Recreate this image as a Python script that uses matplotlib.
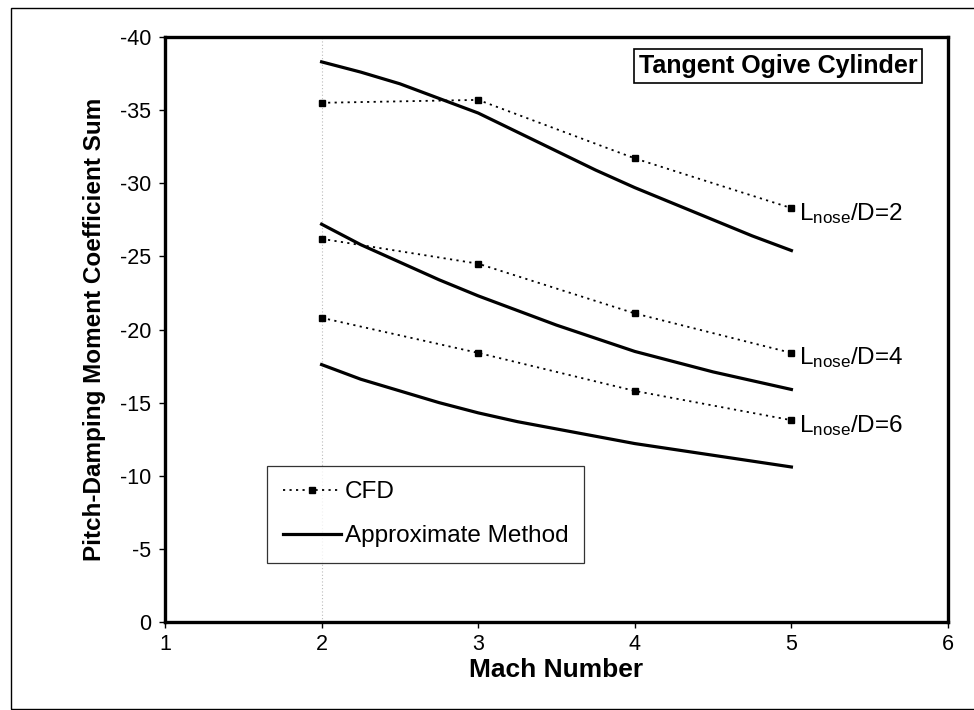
import matplotlib
matplotlib.use("Agg")
import matplotlib.pyplot as plt
from matplotlib.lines import Line2D
from matplotlib.patches import Rectangle

plt.rcParams['font.family'] = ['Liberation Sans', 'DejaVu Sans']
plt.rcParams['mathtext.default'] = 'regular'

# CFD data (Mach, coefficient sum)
cfd_mach = [2, 3, 4, 5]
cfd_ld2 = [-35.5, -35.7, -31.7, -28.3]
cfd_ld4 = [-26.2, -24.5, -21.1, -18.4]
cfd_ld6 = [-20.8, -18.4, -15.8, -13.8]

# Approximate method curves (read at 0.25 Mach spacing)
apx_mach = [2.0, 2.25, 2.5, 2.75, 3.0, 3.25, 3.5, 3.75, 4.0, 4.25, 4.5, 4.75, 5.0]
apx_ld2 = [-38.3, -37.6, -36.8, -35.8, -34.8, -33.5, -32.2, -30.9, -29.7, -28.6, -27.5, -26.4, -25.4]
apx_ld4 = [-27.2, -25.8, -24.6, -23.4, -22.3, -21.3, -20.3, -19.4, -18.5, -17.8, -17.1, -16.5, -15.9]
apx_ld6 = [-17.6, -16.6, -15.8, -15.0, -14.3, -13.7, -13.2, -12.7, -12.2, -11.8, -11.4, -11.0, -10.6]

curve_labels = ['2', '4', '6']
x_ticks = [1, 2, 3, 4, 5, 6]
y_ticks = [0, -5, -10, -15, -20, -25, -30, -35, -40]

W, H = 974, 710
fig = plt.figure(figsize=(W / 100, H / 100), dpi=100)
ax = fig.add_axes([165 / W, 1 - 622 / H, (948 - 165) / W, (622 - 37) / H])

# outer frame
fig.patches.append(Rectangle((11 / W, 1 / H), 1.2, 1 - 9 / H, transform=fig.transFigure,
                             fill=False, edgecolor='black', linewidth=1.0, zorder=0))

# faint scan-like gridline at Mach 2
ax.axvline(2, color='#bbbbbb', linestyle=(0, (1, 2)), linewidth=0.8, zorder=0)

for cfd in (cfd_ld2, cfd_ld4, cfd_ld6):
    ax.plot(cfd_mach, cfd, color='black', linestyle=(0, (1.2, 2.4)), linewidth=1.3,
            marker='s', markersize=5, zorder=3)
for apx in (apx_ld2, apx_ld4, apx_ld6):
    ax.plot(apx_mach, apx, color='black', linestyle='-', linewidth=2.3, zorder=2,
            solid_joinstyle='round')

for lab, cfd in zip(curve_labels, (cfd_ld2, cfd_ld4, cfd_ld6)):
    ax.text(cfd_mach[-1] + 0.05, cfd[-1] + 0.35, r'L$_{nose}$/D=' + lab,
            fontsize=17.5, ha='left', va='center')

ax.set_xlim(1, 6)
ax.set_ylim(0, -40)
ax.set_xticks(x_ticks)
ax.set_yticks(y_ticks)
ax.set_yticklabels([str(v) for v in y_ticks])
ax.tick_params(axis='both', labelsize=15.5, direction='out', length=4, width=1.0)
ax.tick_params(axis='y', pad=6)
ax.tick_params(axis='x', pad=5)
for sp in ax.spines.values():
    sp.set_linewidth(2.4)

ax.set_xlabel('Mach Number', fontsize=19, fontweight='bold', labelpad=2)
ax.set_ylabel('Pitch-Damping Moment Coefficient Sum', fontsize=17.5, fontweight='bold', labelpad=10)

handles = [Line2D([], [], color='black', linestyle=(0, (1.2, 2.4)), linewidth=1.3,
                  marker='s', markersize=5),
           Line2D([], [], color='black', linestyle='-', linewidth=2.3)]
leg = ax.legend(handles, ['CFD', 'Approximate Method'], loc='lower left',
                bbox_to_anchor=((267 - 165) / 783, (622 - 563) / 585),
                fontsize=17.5, frameon=True, fancybox=False, numpoints=1,
                handlelength=2.4, handletextpad=0.15, labelspacing=0.9,
                borderpad=0.65, borderaxespad=0)
leg.get_frame().set_edgecolor('black')
leg.get_frame().set_linewidth(0.9)

ax.text((778 - 165) / 783, (622 - 66) / 585, 'Tangent Ogive Cylinder', transform=ax.transAxes,
        fontsize=18, fontweight='bold', ha='center', va='center',
        bbox=dict(boxstyle='square,pad=0.2', facecolor='white', edgecolor='black', linewidth=1.2))

fig.savefig('out.png', dpi=100)
